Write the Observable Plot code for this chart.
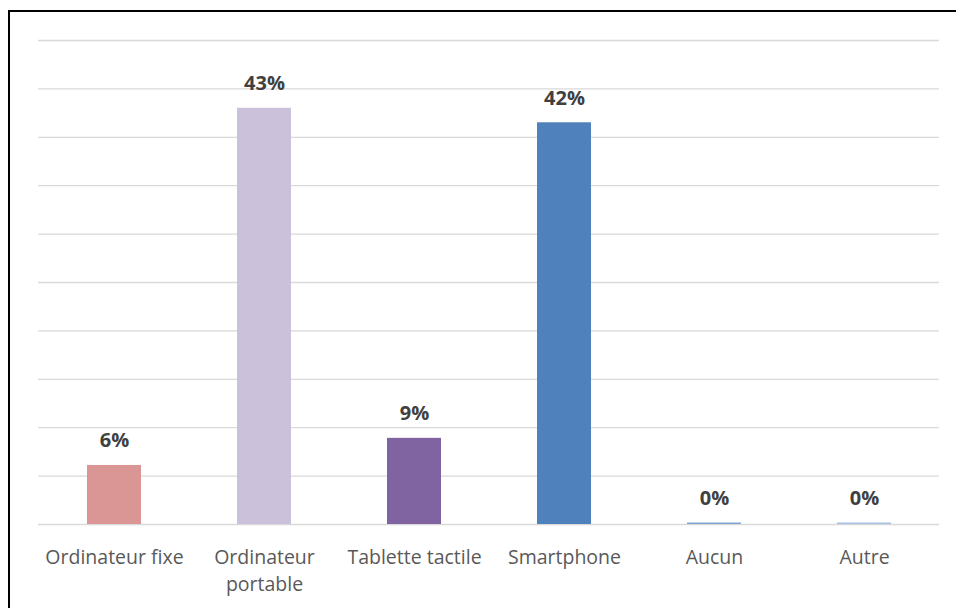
<!DOCTYPE html>
<html>
<head>
<meta charset="utf-8">
<script src="https://cdn.jsdelivr.net/npm/d3@7"></script>
<script src="https://cdn.jsdelivr.net/npm/@observablehq/plot@0.6"></script>
<style>
  html, body { margin: 0; padding: 0; overflow: hidden; background: #fff; }
  #wrap { position: relative; width: 956px; height: 608px; overflow: hidden; }
  #frame { position: absolute; left: 8px; top: 10px; width: 1000px; height: 700px;
           border: 2px solid #000; box-sizing: border-box; pointer-events: none; }
  svg { font-family: "Open Sans", sans-serif; }
</style>
</head>
<body>
<div id="wrap"><div id="frame"></div></div>
<script>
const categories = ["Ordinateur fixe", "Ordinateur portable", "Tablette tactile", "Smartphone", "Aucun", "Autre"];
const values = [6.1, 43.0, 8.9, 41.5, 0.15, 0.15];
const colors = ["#d99694", "#ccc1da", "#8064a2", "#4f81bd", "#7ea3d1", "#a3bfe3"];
const yTicks = [0, 5, 10, 15, 20, 25, 30, 35, 40, 45, 50];
const tickLabels = {"Ordinateur portable": "Ordinateur\nportable"};

const data = categories.map((c, i) => ({cat: c, value: values[i], color: colors[i]}));

const chart = Plot.plot({
  width: 956,
  height: 608,
  marginLeft: 38,
  marginRight: 17,
  marginTop: 40,
  marginBottom: 84,
  style: {fontFamily: "'Open Sans', sans-serif", background: "transparent"},
  x: {domain: categories, paddingInner: 0.64, paddingOuter: 0.32, label: null},
  y: {domain: [0, 50], axis: null},
  marks: [
    Plot.ruleY(yTicks, {stroke: "#d9d9d9", strokeWidth: 1.3}),
    Plot.barY(data, {x: "cat", y: "value", fill: "color"}),
    Plot.text(data, {x: "cat", y: "value", text: d => Math.round(d.value) + "%",
      lineAnchor: "bottom", dy: -18, fill: "#404040", fontWeight: "bold", fontSize: 20}),
    Plot.axisX({tickSize: 0, tickPadding: 20, fontSize: 19.5, color: "#595959",
      lineHeight: 1.38, tickFormat: d => tickLabels[d] || d, label: null})
  ]
});
chart.style.position = "absolute";
chart.style.left = "0px";
chart.style.top = "0px";
document.getElementById("wrap").prepend(chart);
</script>
</body>
</html>
